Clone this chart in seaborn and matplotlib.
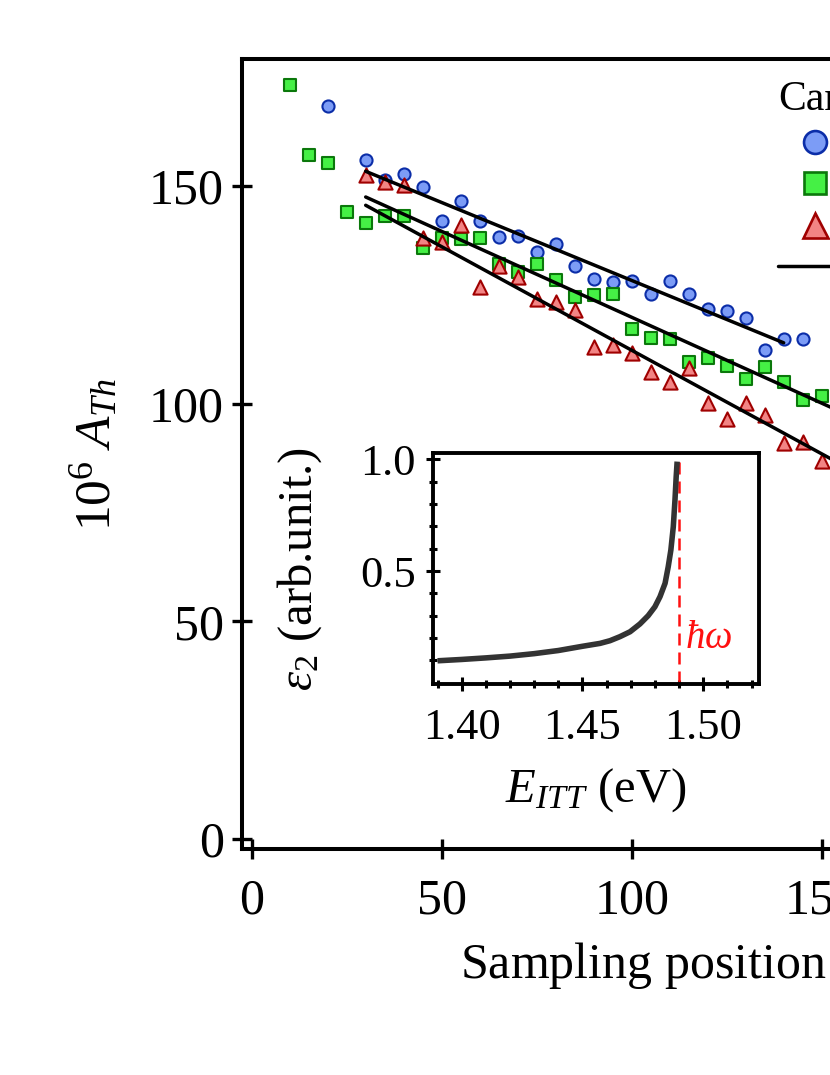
import numpy as np
import pandas as pd
import matplotlib
matplotlib.use("Agg")
import matplotlib.pyplot as plt
from matplotlib.lines import Line2D
import seaborn as sns

# ---------------- data ----------------
pos_cam1 = [20, 30, 35, 40, 45, 50, 55, 60, 65, 70, 75, 80, 85, 90, 95, 100,
            105, 110, 115, 120, 125, 130, 135, 140, 145]
ath_cam1 = [168.3, 156.1, 151.5, 152.8, 149.8, 142.1, 146.5, 142.1, 138.4, 138.5,
            134.9, 136.6, 131.7, 128.6, 128.0, 128.2, 125.2, 128.3, 125.2, 121.7,
            121.3, 119.6, 112.3, 114.9, 114.9]
pos_cam2 = [10, 15, 20, 25, 30, 35, 40, 45, 50, 55, 60, 65, 70, 75, 80, 85, 90,
            95, 100, 105, 110, 115, 120, 125, 130, 135, 140, 145, 150]
ath_cam2 = [173.3, 157.1, 155.4, 144.1, 141.6, 143.2, 143.2, 135.7, 138.0, 137.8,
            138.0, 132.2, 130.3, 132.0, 128.4, 124.6, 125.0, 125.2, 117.1, 115.0,
            114.8, 109.5, 110.4, 108.7, 105.6, 108.5, 104.9, 100.9, 101.8]
pos_cam3 = [30, 35, 40, 45, 50, 55, 60, 65, 70, 75, 80, 85, 90, 95, 100, 105,
            110, 115, 120, 125, 130, 135, 140, 145, 150]
ath_cam3 = [152.5, 151.0, 150.2, 138.1, 137.1, 141.0, 126.9, 131.6, 129.2, 124.0,
            123.3, 121.5, 113.1, 113.6, 111.7, 107.4, 105.1, 108.1, 100.1, 96.6,
            100.2, 97.4, 91.0, 91.3, 86.9]

# linear-fit lines (end points)
fit_pos_cam1 = [30, 140]
fit_ath_cam1 = [153.4, 114.0]
fit_pos_cam2 = [30, 200]
fit_ath_cam2 = [147.5, 80.4]
fit_pos_cam3 = [30, 200]
fit_ath_cam3 = [145.6, 64.7]

series_labels = ["Camera 1", "Camera 2", "Camera 3"]
fit_label = "Linear fit"
legend_title = "Camera"

x_ticks = [0, 50, 100, 150, 200]
y_ticks = [0, 50, 100, 150]

# inset curve
e_itt = [1.390, 1.400, 1.410, 1.420, 1.430, 1.440, 1.450, 1.4573, 1.4614,
         1.4655, 1.4697, 1.4738, 1.4772, 1.4800, 1.4821, 1.4842, 1.4855,
         1.4866, 1.4876, 1.4883, 1.4888, 1.4892]
eps2 = [0.098, 0.104, 0.111, 0.119, 0.130, 0.144, 0.163, 0.176, 0.188,
        0.206, 0.228, 0.263, 0.300, 0.340, 0.385, 0.445, 0.519,
        0.594, 0.698, 0.818, 0.922, 0.990]
hbar_omega = 1.490
inset_x_ticks = [1.40, 1.45, 1.50]
inset_y_ticks = [0.5, 1.0]

# ---------------- style ----------------
sns.set_style("ticks")
plt.rcParams.update({
    "font.family": ["Liberation Serif", "DejaVu Serif"],
    "mathtext.fontset": "custom",
    "mathtext.rm": "Liberation Serif",
    "mathtext.it": "Liberation Serif:italic",
    "mathtext.bf": "Liberation Serif:bold",
    "axes.edgecolor": "black",
    "axes.labelcolor": "black",
    "text.color": "black",
    "xtick.color": "black",
    "ytick.color": "black",
    "xtick.labelcolor": "black",
    "ytick.labelcolor": "black",
})

fills = ["#7C9CF6", "#45F045", "#F28484"]
edges = ["#0B2DA8", "#0B780B", "#A00000"]
markers = ["o", "s", "^"]
sizes = [76, 72, 104]

fig = plt.figure(figsize=(8.3, 10.75), dpi=100)
ax = fig.add_axes([0.2912, 0.2102, 0.9277, 0.7349])

pos_all = [pos_cam1, pos_cam2, pos_cam3]
ath_all = [ath_cam1, ath_cam2, ath_cam3]
for i in range(3):
    df = pd.DataFrame({"pos": pos_all[i], "ath": ath_all[i]})
    sns.scatterplot(data=df, x="pos", y="ath", marker=markers[i], s=sizes[i],
                    color=fills[i], edgecolor=edges[i], linewidth=1.5,
                    ax=ax, zorder=3 + i, legend=False)

for fx, fy in [(fit_pos_cam1, fit_ath_cam1), (fit_pos_cam2, fit_ath_cam2),
               (fit_pos_cam3, fit_ath_cam3)]:
    sns.lineplot(x=fx, y=fy, color="black", lw=2.5, ax=ax, zorder=7,
                 legend=False)

ax.set_xlim(-2.63, 200)
ax.set_ylim(-2.3, 179.2)
ax.set_xticks(x_ticks)
ax.set_yticks(y_ticks)
ax.tick_params(direction="inout", length=14, width=2.4, labelsize=36,
               top=False, right=False)
ax.tick_params(axis="x", pad=14)
ax.tick_params(axis="y", pad=6)
for sp in ax.spines.values():
    sp.set_linewidth(2.9)
    sp.set_visible(True)

ax.set_xlabel("Sampling position $x$ (mm)", fontsize=36)
ax.xaxis.label.set_ha("left")
ax.xaxis.label.set_va("center")
ax.xaxis.set_label_coords(0.2835, -0.147)
ax.set_ylabel(r"$10^{6}\ A_{Th}$", fontsize=37)
ax.yaxis.label.set_va("center")
ax.yaxis.set_label_coords(-0.19, 0.5)

# legend
handles = []
leg_ms = [16.5, 15.5, 18.0]
for i in range(3):
    handles.append(Line2D([], [], ls="none", marker=markers[i], ms=leg_ms[i],
                          mfc=fills[i], mec=edges[i], mew=1.9))
handles.append(Line2D([], [], color="black", lw=2.5))
leg = ax.legend(handles, series_labels + [fit_label], title=legend_title,
                loc="upper left", bbox_to_anchor=(0.6965, 0.9727),
                frameon=False, alignment="left", fontsize=24,
                title_fontsize=30, handlelength=2.2, handletextpad=0.5,
                labelspacing=0.33, borderpad=0, borderaxespad=0)

# ---------------- inset ----------------
axi = fig.add_axes([0.5213, 0.3637, 0.3935, 0.2146])
axi.set_facecolor("white")
sns.lineplot(x=e_itt, y=eps2, color="#333333", lw=4.0, ax=axi, zorder=3,
             legend=False, sort=False, solid_joinstyle="round",
             solid_capstyle="butt")
axi.plot([hbar_omega, hbar_omega], [0.0, 1.0], color="#FF1010", lw=1.8,
         dashes=(4.8, 2.8), zorder=2)
axi.text(hbar_omega + 0.0023, 0.2, r"$\hbar\omega$", color="#FF1010",
         fontsize=28, va="center", ha="left")
axi.set_xlim(1.388, 1.5232)
axi.set_ylim(-0.006, 1.027)
axi.set_xticks(inset_x_ticks)
axi.set_yticks(inset_y_ticks)
axi.set_xticklabels(["%.2f" % v for v in inset_x_ticks])
axi.set_yticklabels(["%.1f" % v for v in inset_y_ticks])
axi.set_xticks(np.arange(1.39, 1.525, 0.01), minor=True)
axi.set_yticks(np.arange(0.1, 1.0, 0.1), minor=True)
axi.tick_params(which="major", direction="inout", length=10, width=2.2,
                labelsize=32, top=False, right=False)
axi.tick_params(which="minor", direction="inout", length=6, width=2.2,
                top=False, right=False)
axi.tick_params(axis="x", which="major", pad=12)
axi.tick_params(axis="y", which="major", pad=7)
for sp in axi.spines.values():
    sp.set_linewidth(2.8)
    sp.set_visible(True)
axi.set_xlabel(r"$E_{ITT}$ (eV)", fontsize=35)
axi.xaxis.label.set_va("center")
axi.xaxis.set_label_coords(0.5, -0.459)
axi.set_ylabel(r"$\varepsilon_2$ (arb.unit.)", fontsize=35)
axi.yaxis.label.set_va("center")
axi.yaxis.set_label_coords(-0.406, 0.5)

fig.savefig("out.png", dpi=100)
